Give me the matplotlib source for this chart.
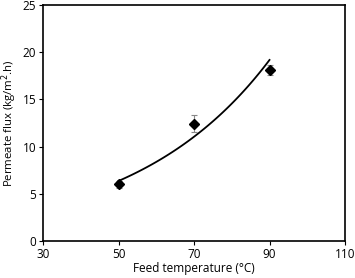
import numpy as np
import matplotlib
matplotlib.use("Agg")
import matplotlib.pyplot as plt

plt.rcParams['font.family'] = ['Open Sans', 'DejaVu Sans']

# data
temp = [50, 70, 90]
flux = [6.0, 12.4, 18.1]
flux_err = [0.4, 0.9, 0.5]
xticks = [30, 50, 70, 90, 110]
yticks = [0, 5, 10, 15, 20, 25]

# exponential trendline (excel style)
b, lna = np.polyfit(temp, np.log(flux), 1)
xx = np.linspace(min(temp), max(temp), 100)
yy = np.exp(lna) * np.exp(b * xx)

fig = plt.figure(figsize=(3.55, 2.78), dpi=100)
ax = fig.add_axes([43/355, 1 - 241/278, (345-43)/355, (241-5)/278])

ax.errorbar(temp, flux, yerr=flux_err, fmt='D', color='black', ms=5,
            ecolor='#888888', elinewidth=0.8, capsize=2, capthick=0.8)
ax.plot(xx, yy, color='black', lw=1.3)

ax.set_xlim(30, 110)
ax.set_ylim(0, 25)
ax.set_xticks(xticks)
ax.set_yticks(yticks)
ax.tick_params(labelsize=8.5, length=3, width=0.8, direction='out', pad=2)
for s in ax.spines.values():
    s.set_linewidth(1.2)

ax.set_xlabel('Feed temperature (°C)', fontsize=8.5, labelpad=1)
ax.set_ylabel('Permeate flux (kg/m$^2$.h)', fontsize=8.2)
ax.yaxis.set_label_coords(-0.078, 0.5)

fig.savefig('out.png', dpi=100)
